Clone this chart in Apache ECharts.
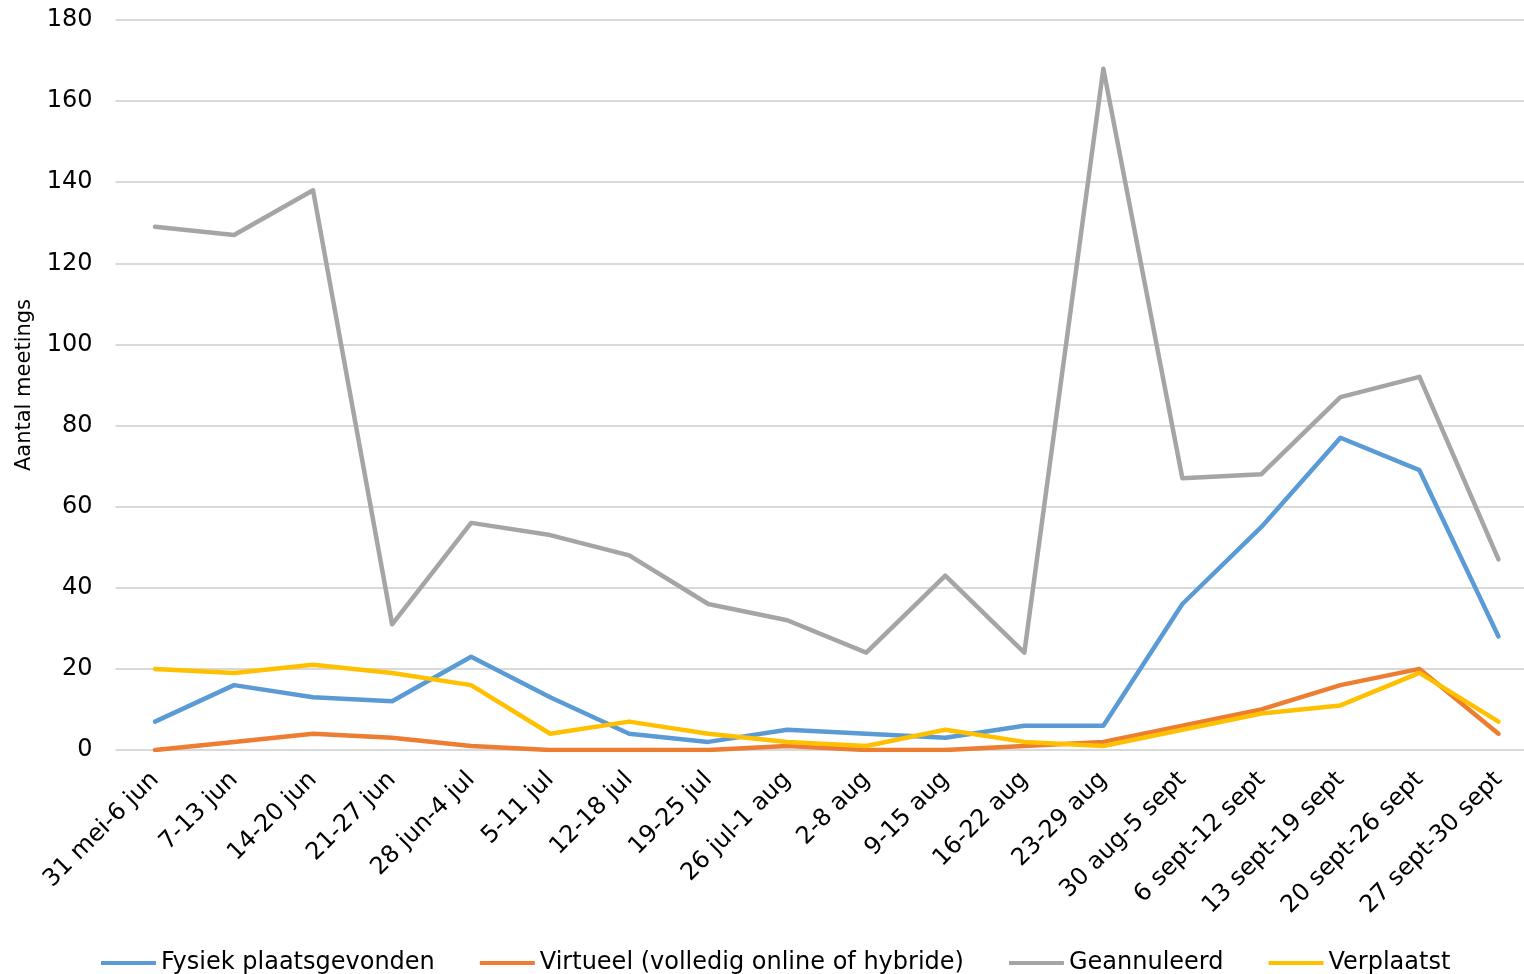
<!DOCTYPE html>
<html>
<head>
<meta charset="utf-8">
<script src="https://cdn.jsdelivr.net/npm/echarts@6/dist/echarts.min.js"></script>
<style>
  html, body { margin: 0; padding: 0; background: #fff; overflow: hidden; }
  /* wider than the window: the last band is cut off at the right edge, like the source */
  #chart { width: 1538px; height: 974px; }
</style>
</head>
<body>
<div id="chart"></div>
<script>
// weeks on the x axis
var weeks = [
  "31 mei-6 jun", "7-13 jun", "14-20 jun", "21-27 jun", "28 jun-4 jul",
  "5-11 jul", "12-18 jul", "19-25 jul", "26 jul-1 aug", "2-8 aug",
  "9-15 aug", "16-22 aug", "23-29 aug", "30 aug-5 sept", "6 sept-12 sept",
  "13 sept-19 sept", "20 sept-26 sept", "27 sept-30 sept"
];
var fysiek = [7, 16, 13, 12, 23, 13, 4, 2, 5, 4, 3, 6, 6, 36, 55, 77, 69, 28];
var virtueel = [0, 2, 4, 3, 1, 0, 0, 0, 1, 0, 0, 1, 2, 6, 10, 16, 20, 4];
var geannuleerd = [129, 127, 138, 31, 56, 53, 48, 36, 32, 24, 43, 24, 168, 67, 68, 87, 92, 47];
var verplaatst = [20, 19, 21, 19, 16, 4, 7, 4, 2, 1, 5, 2, 1, 5, 9, 11, 19, 7];
var yTicks = [0, 20, 40, 60, 80, 100, 120, 140, 160, 180];

var font = "DejaVu Sans, Verdana, sans-serif";

function lineSeries(name, data, color) {
  return {
    name: name,
    type: "line",
    data: data,
    symbol: "none",
    lineStyle: { width: 4.5, color: color, cap: "round", join: "round" },
    itemStyle: { color: color },
    animation: false
  };
}

var chart = echarts.init(document.getElementById("chart"));
chart.setOption({
  backgroundColor: "#fff",
  textStyle: { fontFamily: font },
  grid: { left: 115.5, right: 0, top: 20, height: 730, containLabel: false },
  legend: {
    top: 951,
    left: 101,
    padding: 0,
    itemGap: 45,
    itemWidth: 55,
    itemHeight: 4,
    icon: "rect",
    textStyle: { fontSize: 24, color: "#000", fontFamily: font },
    data: ["Fysiek plaatsgevonden", "Virtueel (volledig online of hybride)", "Geannuleerd", "Verplaatst"]
  },
  xAxis: {
    type: "category",
    data: weeks,
    boundaryGap: true,
    axisLine: { show: false },
    axisTick: { show: false },
    axisLabel: { rotate: 45, fontSize: 24, color: "#000", margin: 26, interval: 0, fontFamily: font }
  },
  yAxis: {
    type: "value",
    min: yTicks[0],
    max: yTicks[yTicks.length - 1],
    interval: 20,
    name: "Aantal meetings",
    nameLocation: "middle",
    nameGap: 80,
    nameTextStyle: { fontSize: 21, color: "#000", fontFamily: font },
    axisLine: { show: false },
    axisTick: { show: false },
    axisLabel: { fontSize: 24, color: "#000", margin: 23, fontFamily: font },
    splitLine: { lineStyle: { color: "#D9D9D9", width: 2 } }
  },
  series: [
    lineSeries("Fysiek plaatsgevonden", fysiek, "#5B9BD5"),
    lineSeries("Virtueel (volledig online of hybride)", virtueel, "#ED7D31"),
    lineSeries("Geannuleerd", geannuleerd, "#A5A5A5"),
    lineSeries("Verplaatst", verplaatst, "#FFC000")
  ]
});
</script>
</body>
</html>
